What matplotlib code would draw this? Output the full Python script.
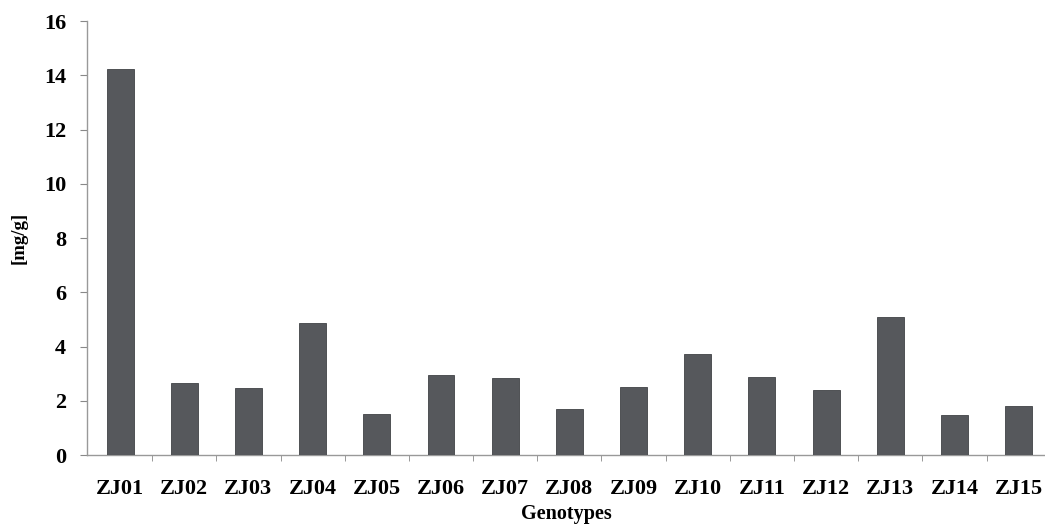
import matplotlib
matplotlib.use("Agg")
import matplotlib.pyplot as plt
import numpy as np

genotypes = ["ZJ01", "ZJ02", "ZJ03", "ZJ04", "ZJ05", "ZJ06", "ZJ07", "ZJ08",
             "ZJ09", "ZJ10", "ZJ11", "ZJ12", "ZJ13", "ZJ14", "ZJ15"]
values = [14.25, 2.65, 2.46, 4.88, 1.50, 2.95, 2.83, 1.69,
          2.50, 3.73, 2.89, 2.40, 5.10, 1.48, 1.82]
yticks = [0, 2, 4, 6, 8, 10, 12, 14, 16]

plt.rcParams['font.family'] = ['Liberation Serif', 'DejaVu Serif']

fig = plt.figure(figsize=(10.45, 5.28), dpi=100)
ax = fig.add_axes([0.0833, 0.138, 0.9167, 0.822])

x = np.arange(len(genotypes))
ax.bar(x, values, width=0.42, color='#56585c', edgecolor='#404246', linewidth=0.6, zorder=3)

ax.set_xlim(-0.514, 14.41)
ax.set_ylim(0, 16)
ax.set_yticks(yticks)
ax.set_yticklabels([str(v) for v in yticks], fontsize=16, fontweight='bold')
ax.set_xticks(x)
ax.set_xticklabels(genotypes, fontsize=16, fontweight='bold')
ax.set_xticks(np.arange(len(genotypes) - 1) + 0.5, minor=True)
ax.tick_params(axis='x', which='major', length=0, pad=17)
ax.tick_params(axis='x', which='minor', length=4, color='#888888', direction='out')
ax.tick_params(axis='y', length=5, color='#888888', direction='out', pad=10)

for s in ['top', 'right']:
    ax.spines[s].set_visible(False)
for s in ['left', 'bottom']:
    ax.spines[s].set_color('#999999')
    ax.spines[s].set_linewidth(1.0)

ax.set_xlabel('Genotypes', fontsize=14.5, fontweight='bold', labelpad=4)
ax.set_ylabel('[mg/g]', fontsize=13.5, fontweight='bold', labelpad=12)

fig.savefig('out.png', dpi=100)
